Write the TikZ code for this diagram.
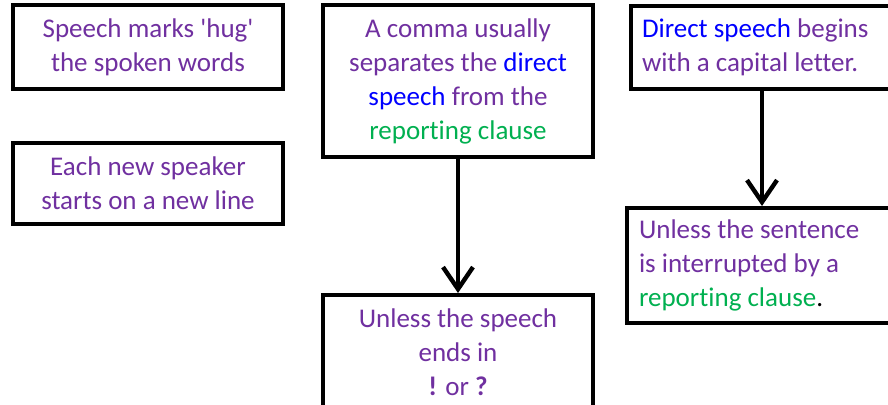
\documentclass[tikz,border=0pt]{standalone}
\usepackage{fontspec}
\setmainfont[Ligatures={NoCommon,TeXOff}]{Carlito}
\usetikzlibrary{arrows.meta}
\definecolor{txtpurple}{HTML}{7030A0}
\definecolor{txtblue}{HTML}{0000FF}
\definecolor{txtgreen}{HTML}{00B050}
\tikzset{
  rulebox/.style={draw=black,line width=2pt,fill=white,text=txtpurple,
    font=\fontsize{13.5}{17}\selectfont,align=center,inner sep=0pt},
  leftbox/.style={rulebox,align=flush left},
  downarrow/.style={line width=2.2pt,-{Straight Barb[length=11pt,width=15pt]}}
}
\newcommand{\dsp}[1]{\textcolor{txtblue}{#1}}
\newcommand{\rcl}[1]{\textcolor{txtgreen}{#1}}
\begin{document}
\begin{tikzpicture}[x=0.5pt,y=-0.5pt]
\clip (0,0) rectangle (888,405);
\fill[white] (0,0) rectangle (888,405);

% left column
\node[rulebox,minimum width=135pt,minimum height=42pt] (hug) at (148,47)
  {Speech marks 'hug'\\the spoken words};
\node[rulebox,minimum width=135pt,minimum height=40.5pt] (newline) at (148,183.5)
  {Each new speaker\\starts on a new line};

% middle column
\node[rulebox,minimum width=135pt,minimum height=76pt] (comma) at (458,81)
  {A comma usually\\separates the \dsp{direct}\\\dsp{speech} from the\\\rcl{reporting clause}};
\node[rulebox,minimum width=135pt,minimum height=57.5pt] (ends) at (458,352.5)
  {Unless the speech\\ends in\\\textbf{!} or \textbf{?}};

% right column
\node[leftbox,minimum width=137pt,minimum height=41.5pt,text width=126pt] (capital) at (768,47.5)
  {\dsp{Direct speech} begins\\with a capital letter.};
\node[leftbox,minimum width=135pt,minimum height=57.5pt,text width=123pt] (interrupt) at (762,265.5)
  {Unless the sentence\\is interrupted by a\\\rcl{reporting clause}\textcolor{black}{.}};

\draw[downarrow] (comma.south) -- (ends.north);
\draw[downarrow] (capital.south -| interrupt.north) -- (interrupt.north);

\end{tikzpicture}
\end{document}
